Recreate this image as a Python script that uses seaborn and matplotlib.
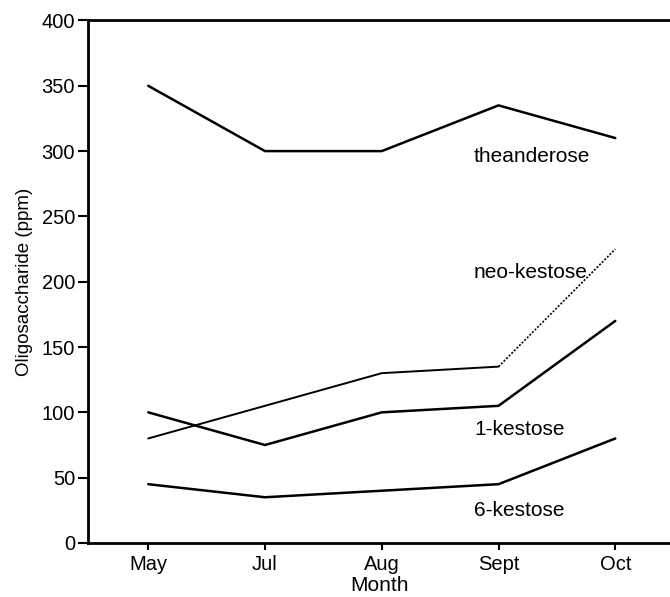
import matplotlib
matplotlib.use("Agg")
import matplotlib.pyplot as plt
import numpy as np
import pandas as pd
import seaborn as sns

months = ["May", "Jul", "Aug", "Sept", "Oct"]
theanderose = [350, 300, 300, 335, 310]
neo_kestose = [80, 105, 130, 135, 225]
kestose_1 = [100, 75, 100, 105, 170]
kestose_6 = [45, 35, 40, 45, 80]

sns.set_style("ticks")
plt.rcParams["font.family"] = ["Liberation Sans", "DejaVu Sans"]
plt.rcParams["axes.labelcolor"] = "black"
plt.rcParams["text.color"] = "black"

pos = np.arange(len(months))
df = pd.DataFrame({
    "pos": np.tile(pos, 4),
    "value": theanderose + neo_kestose + kestose_1 + kestose_6,
    "sugar": np.repeat(["theanderose", "neo-kestose", "1-kestose", "6-kestose"], len(months)),
})

fig = plt.figure(figsize=(6.7, 5.97), dpi=100)
ax = fig.add_axes([0.1306, 0.0905, 0.8694 + 0.002, 0.8752])

for name in ["theanderose", "1-kestose", "6-kestose"]:
    sub = df[df["sugar"] == name]
    sns.lineplot(data=sub, x="pos", y="value", color="black", linewidth=1.8, ax=ax)

# neo-kestose: solid through September, dotted to October
neo = df[df["sugar"] == "neo-kestose"]
sns.lineplot(data=neo[neo["pos"] <= 3], x="pos", y="value", color="black",
             linewidth=1.4, ax=ax)
sns.lineplot(data=neo[neo["pos"] >= 3], x="pos", y="value", color="black",
             linewidth=1.2, linestyle=(0, (1.2, 1.0)), ax=ax)

labels = [("theanderose", 296), ("neo-kestose", 207), ("1-kestose", 87), ("6-kestose", 25)]
for text, yv in labels:
    ax.text(2.79, yv, text, fontsize=15, va="center", ha="left", color="black")

ax.set_xlim(-0.52, 4.48)
ax.set_ylim(0, 400)
ax.set_xticks(pos)
ax.set_xticklabels(months)
ax.set_yticks(np.arange(0, 401, 50))
ax.tick_params(axis="both", labelsize=14.5, colors="black", width=1.5)
ax.tick_params(axis="y", length=7, pad=2)
ax.tick_params(axis="x", length=5, pad=4)
ax.set_xlabel("Month", fontsize=15, labelpad=1, color="black")
ax.set_ylabel("Oligosaccharide (ppm)", fontsize=13.5, labelpad=6, color="black")

for side in ["left", "bottom", "top"]:
    ax.spines[side].set_linewidth(2.0)
    ax.spines[side].set_color("black")
ax.spines["right"].set_visible(False)

fig.savefig("out.png", dpi=100)
